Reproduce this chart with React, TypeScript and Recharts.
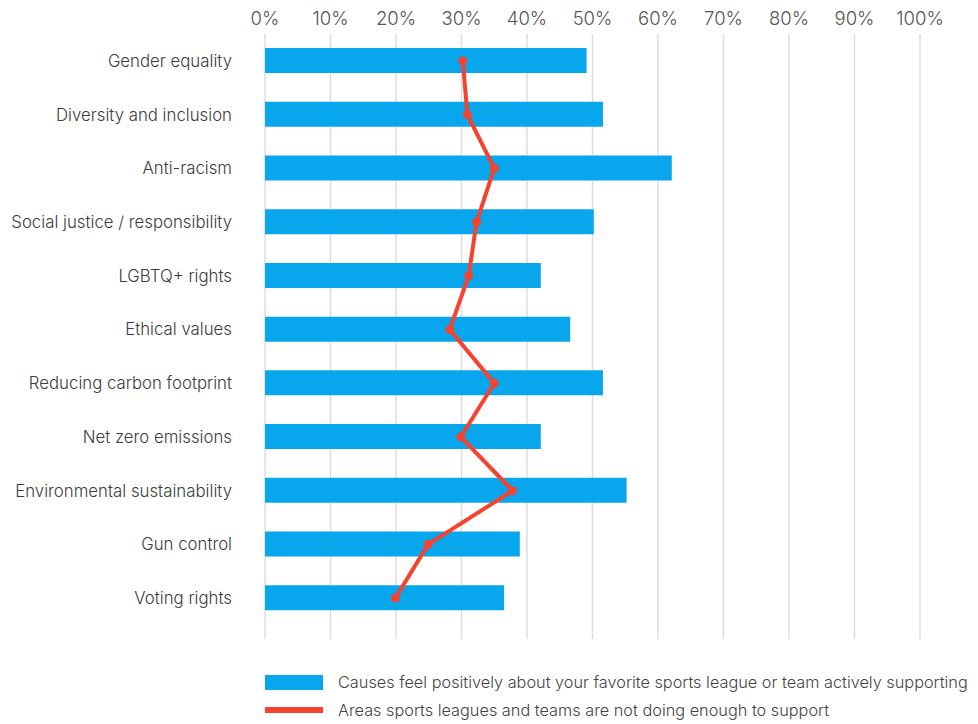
import React from 'react';
import {
  ComposedChart,
  Bar,
  Line,
  XAxis,
  YAxis,
  CartesianGrid,
} from 'recharts';

const causes = [
  'Gender equality',
  'Diversity and inclusion',
  'Anti-racism',
  'Social justice / responsibility',
  'LGBTQ+ rights',
  'Ethical values',
  'Reducing carbon footprint ',
  'Net zero emissions',
  'Environmental sustainability',
  'Gun control',
  'Voting rights',
];

// share who feel positively about their league/team supporting the cause
const feelPositive = [49.1, 51.6, 62.1, 50.2, 42.1, 46.6, 51.6, 42.1, 55.2, 38.9, 36.5];
// share saying leagues/teams are not doing enough
const notEnough = [30.2, 30.9, 35.0, 32.3, 31.1, 28.2, 35.0, 29.9, 37.8, 24.9, 19.9];

const percentTicks = [0, 10, 20, 30, 40, 50, 60, 70, 80, 90, 100];

const BLUE = '#08a6ec';
const RED = '#f5432f';
const FONT = 'Inter, "Noto Sans", sans-serif';

const data = causes.map((cause, i) => ({
  cause,
  positive: feelPositive[i],
  notEnough: notEnough[i],
}));

function ChartLegend() {
  const row = { display: 'flex', alignItems: 'center', height: 28 } as const;
  const text = { fontSize: 16.3, color: '#444', marginLeft: 15, whiteSpace: 'nowrap' } as const;
  return (
    <div style={{ position: 'absolute', left: 265, top: 668, fontFamily: FONT, fontWeight: 300 }}>
      <div style={row}>
        <span style={{ width: 58, height: 15, background: BLUE, display: 'inline-block' }} />
        <span style={text}>Causes feel positively about your favorite sports league or team actively supporting</span>
      </div>
      <div style={row}>
        <span style={{ width: 58, height: 6, background: RED, display: 'inline-block' }} />
        <span style={text}>Areas sports leagues and teams are not doing enough to support</span>
      </div>
    </div>
  );
}

export default function App() {
  return (
    <div style={{ position: 'absolute', left: 0, top: 0, width: 978, height: 724, background: '#fff', fontFamily: FONT }}>
      <ComposedChart
        width={978}
        height={724}
        data={data}
        layout="vertical"
        margin={{ top: 0, right: 58, left: 0, bottom: 85 }}
      >
        <CartesianGrid horizontal={false} stroke="#dcdce4" strokeWidth={1.5} />
        <XAxis
          type="number"
          orientation="top"
          domain={[0, 100]}
          ticks={percentTicks}
          tickFormatter={(v) => `${v}%`}
          axisLine={false}
          tickLine={false}
          height={34}
          tickSize={0}
          tickMargin={9}
          tick={{ fill: '#555', fontSize: 18.5, fontWeight: 300 }}
          interval={0}
        />
        <YAxis
          type="category"
          dataKey="cause"
          width={265}
          axisLine={false}
          tickLine={false}
          tickSize={0}
          tickMargin={33}
          padding={{ top: 0, bottom: 14 }}
          tick={{ fill: '#3c3c3c', fontSize: 16.8, fontWeight: 300 }}
          interval={0}
        />
        <Bar dataKey="positive" fill={BLUE} barSize={25} isAnimationActive={false} />
        <Line
          dataKey="notEnough"
          stroke={RED}
          strokeWidth={4}
          dot={{ r: 4, fill: RED, stroke: RED, strokeWidth: 1 }}
          isAnimationActive={false}
        />
      </ComposedChart>
      <ChartLegend />
    </div>
  );
}
